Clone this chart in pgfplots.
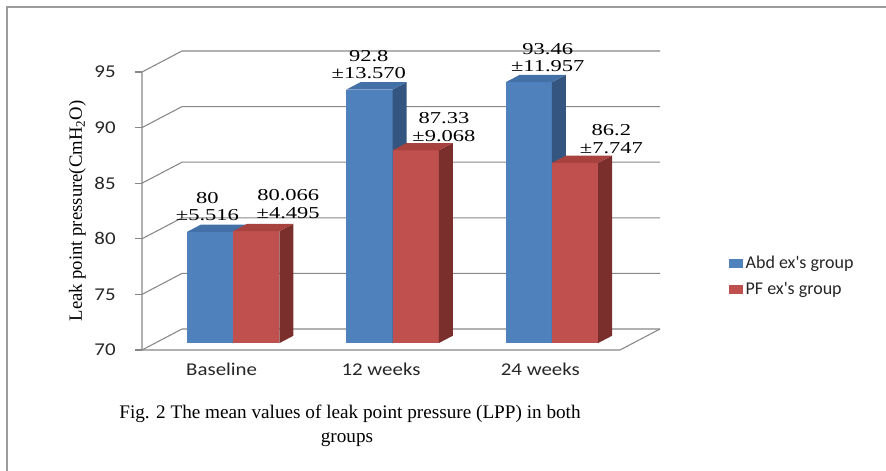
\documentclass[border=0pt]{standalone}
\usepackage{pgfplots}
\pgfplotsset{compat=1.18}
\usepackage{pgfplotstable}
\usepackage{fontspec}
\setmainfont{Liberation Serif}
\newfontfamily\calibri{Carlito}
\usetikzlibrary{calc}

\definecolor{abdF}{HTML}{4F81BD}
\definecolor{abdS}{HTML}{34557F}
\definecolor{abdT}{HTML}{4470A8}
\definecolor{pfF}{HTML}{C0504D}
\definecolor{pfS}{HTML}{7A2F2D}
\definecolor{pfT}{HTML}{A8423F}
\definecolor{gridcol}{HTML}{878787}
\definecolor{framecol}{HTML}{9C9C9C}

% mean leak point pressure per group and visit
\pgfplotstableread{
period abd   pf
0      80    80.066
1      92.8  87.33
2      93.46 86.2
}\lpp

% depth of the bars inside the floor (front and back)
\newcommand\dA{0.33}
\newcommand\dB{0.68}
% one 3-D bar: front face, right side and top
\newcommand\barbox[6]{%
  \addplot3[forget plot, draw=none, fill=#4] coordinates {(#1,\dA,70) (#2,\dA,70) (#2,\dA,#3) (#1,\dA,#3)};
  \addplot3[forget plot, draw=none, fill=#5] coordinates {(#2,\dA,70) (#2,\dB,70) (#2,\dB,#3) (#2,\dA,#3)};
  \addplot3[forget plot, draw=none, fill=#6] coordinates {(#1,\dA,#3) (#2,\dA,#3) (#2,\dB,#3) (#1,\dB,#3)};
}

\tikzset{vlabel/.style={align=center, font=\fontsize{12.5}{13.1}\selectfont, xscale=1.35, inner sep=0pt}}

\begin{document}
\begin{tikzpicture}
\begin{axis}[
  x={(119.5pt,0pt)}, y={(30pt,15.75pt)}, z={(0pt,8.34pt)},
  xmin=-0.5, xmax=2.5, ymin=0, ymax=1, zmin=70, zmax=95,
  axis lines*=left,
  axis line style={draw=none},
  clip=false,
  xtick={0,1,2}, xticklabels={Baseline,12 weeks,24 weeks},
  ytick=\empty,
  ztick={70,75,...,95},
  major tick length=0pt,
  tick style={draw=none},
  /pgf/number format/assume math mode=true,
  ticklabel style={font=\calibri\fontsize{13.5}{16}\selectfont, text=black!85, xscale=1.16},
  x tick label style={anchor=base, yshift=-19.5pt},
  z tick label style={anchor=east, xshift=-13.5pt},
  legend style={at={(axis cs:3.16,0,76.65)}, anchor=west, draw=none, fill=none,
    font=\calibri\fontsize{13.5}{16}\selectfont, text=black!85, row sep=5pt,
    legend cell align=left},
]
% walls and floor
\pgfplotsinvokeforeach{70,75,...,95}{
  \draw[gridcol, line width=0.8pt] (axis cs:-0.5,0,#1) -- (axis cs:-0.5,1,#1) -- (axis cs:2.5,1,#1);
  \draw[gridcol, line width=0.8pt] (axis cs:-0.5,0,#1) -- ++(-5.25pt,0pt);
}
\draw[gridcol, line width=0.8pt] (axis cs:-0.5,0,95) -- (axis cs:-0.5,0,70) -- (axis cs:2.5,0,70) -- (axis cs:2.5,1,70);

% bars
\pgfplotsforeachungrouped \r in {0,1,2}{%
  \pgfplotstablegetelem{\r}{abd}\of\lpp \let\va\pgfplotsretval
  \pgfplotstablegetelem{\r}{pf}\of\lpp \let\vb\pgfplotsretval
  \pgfmathsetmacro\xl{\r-0.30}%
  \pgfmathsetmacro\xm{\r-0.01}%
  \pgfmathsetmacro\xr{\r+0.28}%
  \edef\drawpair{\noexpand\barbox{\xl}{\xm}{\va}{abdF}{abdS}{abdT}%
                 \noexpand\barbox{\xm}{\xr}{\vb}{pfF}{pfS}{pfT}}%
  \drawpair
}

\addlegendimage{legend image code/.code={\fill[abdF] (0pt,-3pt) rectangle (9.75pt,3pt);}}
\addlegendentry{Abd ex's group}
\addlegendimage{legend image code/.code={\fill[pfF] (0pt,-3pt) rectangle (9.75pt,3pt);}}
\addlegendentry{PF ex's group}

% mean ± SD above each bar
\node[vlabel, xshift=-1.5pt, yshift=19pt]   at (axis cs:-0.155,\dA,80)    {80\\±5.516};
\node[vlabel, xshift=17.7pt, yshift=20.2pt] at (axis cs:0.135,\dA,80.066) {80.066\\±4.495};
\node[vlabel, xshift=-0.4pt, yshift=18.8pt] at (axis cs:0.845,\dA,92.8)   {92.8\\±13.570};
\node[vlabel, xshift=15.7pt, yshift=17.5pt] at (axis cs:1.135,\dA,87.33)  {87.33\\±9.068};
\node[vlabel, xshift=10.5pt, yshift=18.5pt] at (axis cs:1.845,\dA,93.46)  {93.46\\±11.957};
\node[vlabel, xshift=20.2pt, yshift=18pt]   at (axis cs:2.135,\dA,86.2)   {86.2\\±7.747};

\coordinate (O) at (axis cs:-0.5,0,70);
\end{axis}
\pgfresetboundingbox
\begin{scope}[shift={($(O)+(-106.5pt,262.5pt)$)}, x=0.75pt, y=-0.75pt]
  \useasboundingbox (0,0) rectangle (886,471);
  \draw[framecol, line width=1pt] (7,471) -- (7,7) -- (886,7);
  \node[rotate=90, anchor=base, font=\fontsize{14}{16}\selectfont, inner sep=0pt] at (82,211)
    {Leak point pressure(CmH\textsubscript{2}O)};
  \node[anchor=base, font=\fontsize{14.4}{18}\selectfont, inner sep=0pt] at (350,419)
    {Fig. 2 The mean values of leak point pressure (LPP) in both};
  \node[anchor=base, font=\fontsize{14.4}{18}\selectfont, inner sep=0pt] at (347,443) {groups};
\end{scope}
\end{tikzpicture}
\end{document}
